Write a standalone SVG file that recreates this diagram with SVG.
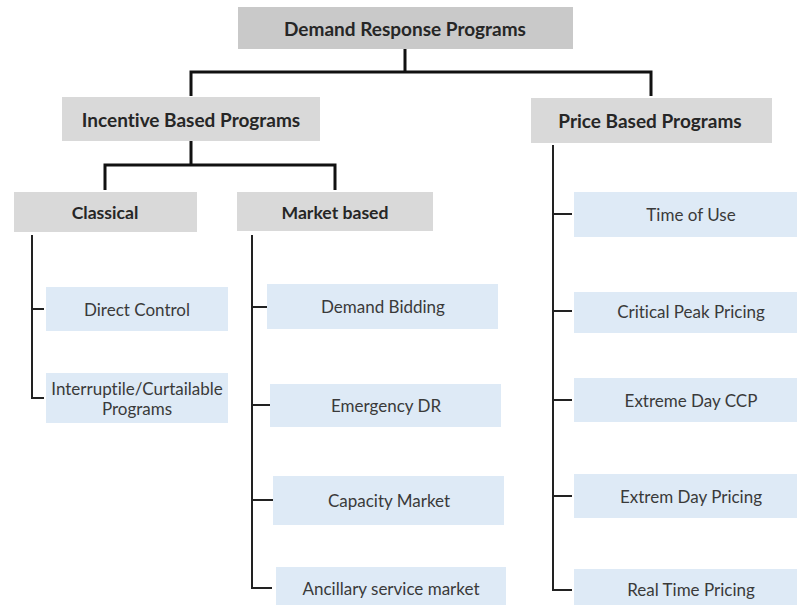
<svg xmlns="http://www.w3.org/2000/svg" width="797" height="605" viewBox="0 0 797 605">
<style>
.root{fill:#c9c9c9}
.mid{fill:#d9d9d9}
.leaf{fill:#deeaf6}
text{font-variant-ligatures:none}
.tb{font-family:Lato,"Liberation Sans",sans-serif;font-weight:bold;font-size:19px;fill:#262626;text-anchor:middle;dominant-baseline:central}
.ts{font-family:Lato,"Liberation Sans",sans-serif;font-weight:bold;font-size:17.6px;fill:#262626;text-anchor:middle;dominant-baseline:central}
.tl{font-family:Lato,"Liberation Sans",sans-serif;font-size:17px;fill:#3a3a3a;text-anchor:middle;dominant-baseline:central}
.c3{fill:none;stroke:#111;stroke-width:3}
.c2{fill:none;stroke:#222;stroke-width:2}
</style>
<rect width="797" height="605" fill="#fff"/>
<g id="connectors">
<path class="c3" d="M405,49V72M191,96V72H651V96"/>
<path class="c3" d="M191,141V165M105,190V165H335V190"/>
<path class="c2" d="M32,235V398H44M32,309H44"/>
<path class="c2" d="M252,235V588H272M252,307H267M252,405H270M252,500H273"/>
<path class="c2" d="M553,145V590H572M553,214H572M553,311H572M553,400H572M553,496H572"/>
</g>
<g id="root"><rect class="root" x="238" y="7" width="335" height="42"/><text class="tb" x="405" y="28">Demand Response Programs</text></g>
<g id="incentive"><rect class="mid" x="62" y="97" width="258" height="44"/><text class="tb" x="191" y="119">Incentive Based Programs</text></g>
<g id="price"><rect class="mid" x="531" y="98" width="241" height="45"/><text class="tb" x="650" y="120">Price Based Programs</text></g>
<g id="classical"><rect class="mid" x="14" y="192" width="183" height="40"/><text class="ts" x="105" y="212">Classical</text></g>
<g id="market"><rect class="mid" x="237" y="192" width="196" height="39"/><text class="ts" x="335" y="212">Market based</text></g>
<g id="direct-control"><rect class="leaf" x="46" y="287" width="182" height="44"/><text class="tl" x="137" y="309">Direct Control</text></g>
<g id="interruptile"><rect class="leaf" x="46" y="373" width="182" height="50"/><text class="tl" x="137" y="388">Interruptile/Curtailable</text><text class="tl" x="137" y="408">Programs</text></g>
<g id="demand-bidding"><rect class="leaf" x="267" y="284" width="231" height="45"/><text class="tl" x="383" y="306">Demand Bidding</text></g>
<g id="emergency-dr"><rect class="leaf" x="270" y="384" width="231" height="43"/><text class="tl" x="386" y="405">Emergency DR</text></g>
<g id="capacity-market"><rect class="leaf" x="273" y="476" width="231" height="49"/><text class="tl" x="389" y="500">Capacity Market</text></g>
<g id="ancillary"><rect class="leaf" x="276" y="567" width="230" height="38"/><text class="tl" x="391" y="588">Ancillary service market</text></g>
<g id="time-of-use"><rect class="leaf" x="574" y="192" width="223" height="45"/><text class="tl" x="691" y="214">Time of Use</text></g>
<g id="critical-peak"><rect class="leaf" x="574" y="292" width="223" height="41"/><text class="tl" x="691" y="311">Critical Peak Pricing</text></g>
<g id="extreme-ccp"><rect class="leaf" x="574" y="378" width="223" height="44"/><text class="tl" x="691" y="400">Extreme Day CCP</text></g>
<g id="extrem-pricing"><rect class="leaf" x="574" y="474" width="223" height="44"/><text class="tl" x="691" y="496">Extrem Day Pricing</text></g>
<g id="real-time"><rect class="leaf" x="574" y="569" width="223" height="36"/><text class="tl" x="691" y="589">Real Time Pricing</text></g>
</svg>
